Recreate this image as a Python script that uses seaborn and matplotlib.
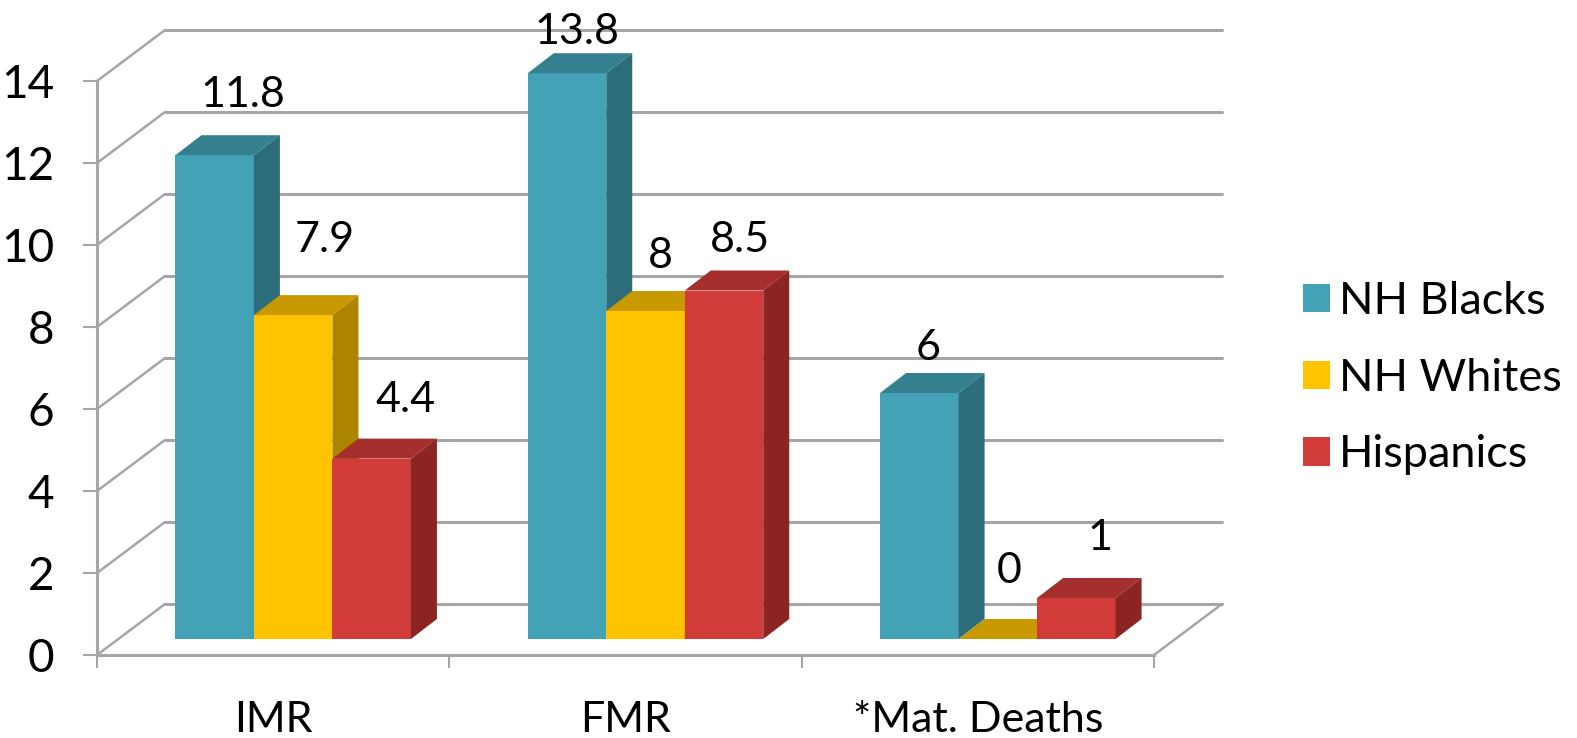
import pandas as pd
import seaborn as sns
import matplotlib.pyplot as plt
from matplotlib.patches import Polygon, Patch

categories = ['IMR', 'FMR', '*Mat. Deaths']
groups = ['NH Blacks', 'NH Whites', 'Hispanics']
nh_blacks = [11.8, 13.8, 6]
nh_whites = [7.9, 8, 0]
hispanics = [4.4, 8.5, 1]
value_labels = ['11.8', '13.8', '6', '7.9', '8', '0', '4.4', '8.5', '1']
y_ticks = [0, 2, 4, 6, 8, 10, 12, 14]

front_colors = ['#43A2B6', '#FFC300', '#D13C3A']
top_colors = ['#35808F', '#C99A00', '#A52F2D']
side_colors = ['#2C6C7B', '#AD8500', '#8A2523']
grid_color = '#A6A6A6'

W, H = 1577, 738
left, right, base, top = 97, 1154, 655, 81   # front plane of the chart in pixels
px_x = (right - left) / 3
px_y = (base - top) / 14

sns.set_theme(style='white')
plt.rcParams['font.family'] = ['Lato', 'DejaVu Sans']

df = pd.DataFrame({'cat': categories, groups[0]: nh_blacks, groups[1]: nh_whites, groups[2]: hispanics})
df = df.melt(id_vars='cat', var_name='group', value_name='value')

fig = plt.figure(figsize=(W / 100, H / 100), dpi=100)
ax = fig.add_axes([left / W, 1 - base / H, (right - left) / W, (base - top) / H])
sns.barplot(data=df, x='cat', y='value', hue='group', hue_order=groups, order=categories,
            palette=front_colors, saturation=1, width=3 * 78.5 / px_x, gap=0, linewidth=0, ax=ax,
            legend=False, errorbar=None)
ax.set_xlim(-0.5, 2.5)
ax.set_ylim(0, 14)
ax.set_xlabel('')
ax.set_ylabel('')

# back wall + side wall
wall_dx, wall_dy = 68 / px_x, 51 / px_y
for v in y_ticks:
    ax.plot([-0.5 + wall_dx, 2.5 + wall_dx], [v + wall_dy, v + wall_dy], color=grid_color, lw=2.2, zorder=1, clip_on=False)
    ax.plot([-0.5, -0.5 + wall_dx], [v, v + wall_dy], color=grid_color, lw=1.8, zorder=1, clip_on=False)
ax.plot([2.5, 2.5 + wall_dx], [0, wall_dy], color=grid_color, lw=1.8, zorder=1, clip_on=False)

for s in ['top', 'right']:
    ax.spines[s].set_visible(False)
for s in ['left', 'bottom']:
    ax.spines[s].set_color(grid_color)
    ax.spines[s].set_linewidth(2.2)
    ax.spines[s].set_zorder(1.5)

ax.set_yticks(y_ticks)
ax.set_xticks([0, 1, 2])
ax.set_xticklabels(categories)
ax.set_xticks([-0.5, 0.5, 1.5, 2.5], minor=True)
ax.tick_params(axis='y', length=9.8, width=1.5, color=grid_color, pad=21, labelsize=33, labelcolor='black', left=True)
ax.tick_params(axis='x', which='major', length=0, pad=33, labelsize=31, labelcolor='black')
ax.tick_params(axis='x', which='minor', length=9.5, width=1.5, color=grid_color, bottom=True)

# bars stand a little inside the floor, depth drawn from each bar's own size
shift_x, shift_y = 20 / px_x, 16 / px_y
depth_x, depth_y = 26 / px_x, 20 / px_y
nudges = [(28, 60), (9.5, 41), (9, 45), (32, 75), (14.5, 55), (11, 68), (34, 59), (15.5, 50), (24, 60)]
n = 0
for i, cont in enumerate(ax.containers):
    for bar in cont:
        h = bar.get_height()
        bar.set_x(bar.get_x() + shift_x)
        bar.set_y(shift_y)
        bar.set_zorder(3 + i)
        bar.set_clip_on(False)
        x0, x1 = bar.get_x(), bar.get_x() + bar.get_width()
        y0, y1 = shift_y, shift_y + h
        ax.add_patch(Polygon([(x0, y1), (x1, y1), (x1 + depth_x, y1 + depth_y), (x0 + depth_x, y1 + depth_y)],
                             closed=True, fc=top_colors[i], ec='none', zorder=3 + i, clip_on=False))
        ax.add_patch(Polygon([(x1, y0), (x1, y1), (x1 + depth_x, y1 + depth_y), (x1 + depth_x, y0 + depth_y)],
                             closed=True, fc=side_colors[i], ec='none', zorder=3 + i, clip_on=False))
        ax.annotate(value_labels[n], xy=((x0 + x1) / 2, y1), xytext=nudges[n], textcoords='offset pixels',
                    ha='center', va='center', fontsize=31, color='black', zorder=10, annotation_clip=False)
        n += 1

handles = [Patch(fc=c, ec='none', label=g) for c, g in zip(front_colors, groups)]
fig.legend(handles=handles, loc='upper left', bbox_to_anchor=(1303 / W, 1 - 281 / H), frameon=False, fontsize=32.5,
           handlelength=0.59, handleheight=0.59, handletextpad=0.2, labelspacing=0.79, borderpad=0, borderaxespad=0,
           labelcolor='black')

fig.savefig('out.png', dpi=100)
